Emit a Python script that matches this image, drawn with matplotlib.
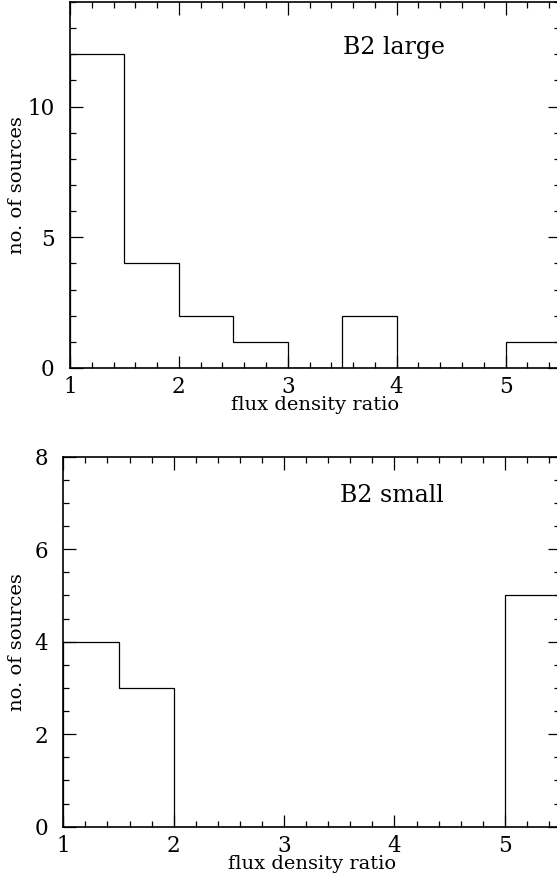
import numpy as np
import matplotlib
matplotlib.use("Agg")
import matplotlib.pyplot as plt
from matplotlib.ticker import MultipleLocator

# bin edges of the flux density ratio histograms
bin_edges = [1.0, 1.5, 2.0, 2.5, 3.0, 3.5, 4.0, 4.5, 5.0, 5.5]

# counts per bin
large_counts = [12, 4, 2, 1, 0, 2, 0, 0, 1]
small_counts = [4, 3, 0, 0, 0, 0, 0, 0, 5]

plt.rcParams["font.family"] = ["DejaVu Serif"]

fig = plt.figure(figsize=(5.57, 8.77), dpi=100)

# [left, bottom, width, height] in figure fractions; right spine falls just off the page
ax_top = fig.add_axes([0.1257, 0.5804, 1.0054 - 0.1257, 0.9977 - 0.5804])
ax_bot = fig.add_axes([0.1137, 0.0574, 1.0054 - 0.1137, 0.4793 - 0.0574])


def style_axes(ax, ymax, ymajor, yminor, label, ylab_x, text_y):
    ax.set_xlim(1, 5.5)
    ax.set_ylim(0, ymax)
    ax.xaxis.set_major_locator(MultipleLocator(1))
    ax.xaxis.set_minor_locator(MultipleLocator(0.2))
    ax.yaxis.set_major_locator(MultipleLocator(ymajor))
    ax.yaxis.set_minor_locator(MultipleLocator(yminor))
    ax.tick_params(which="both", direction="in", top=True, right=True,
                   width=0.9, color="black")
    ax.tick_params(which="major", length=9)
    ax.tick_params(which="minor", length=4.5)
    ax.tick_params(axis="x", which="major", labelsize=15.5, pad=6)
    ax.tick_params(axis="y", which="major", labelsize=15.5, pad=11)
    for s in ax.spines.values():
        s.set_linewidth(1.2)
    ax.set_xlabel("flux density ratio", fontsize=14)
    ax.xaxis.set_label_coords(0.5, -0.077)
    ax.set_ylabel("no. of sources", fontsize=14)
    ax.yaxis.set_label_coords(ylab_x, 0.5)
    ax.text(0.557, text_y, label, transform=ax.transAxes, fontsize=17,
            va="center", ha="left")


ax_top.stairs(large_counts, bin_edges, color="black", linewidth=0.9, baseline=0)
style_axes(ax_top, 14, 5, 1, "B2 large", -0.089, 0.877)

ax_bot.stairs(small_counts, bin_edges, color="black", linewidth=0.9, baseline=0)
style_axes(ax_bot, 8, 2, 0.5, "B2 small", -0.075, 0.896)

fig.savefig("out.png", dpi=100)
